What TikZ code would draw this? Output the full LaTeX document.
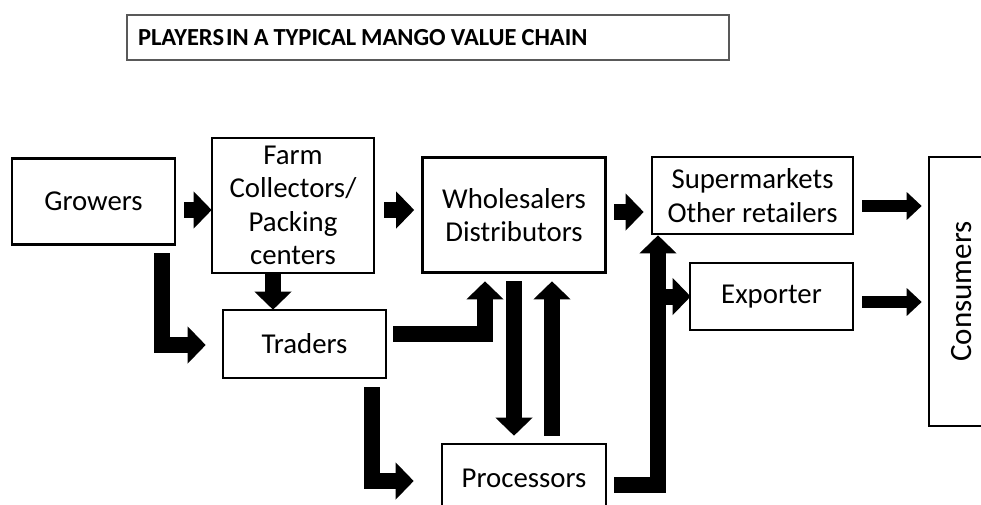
\documentclass[tikz,border=0pt]{standalone}
\usepackage{fontspec}
\setmainfont{Carlito}
\usetikzlibrary{arrows.meta}

\tikzset{
  box/.style={draw=black, line width=2.6pt, inner sep=0pt, align=center,
    font=\fontsize{28.8}{33.5}\selectfont},
  fat/.style={line width=16pt, line join=miter, miter limit=10,
    -{Triangle[length=18pt,width=36pt]}},
  slim/.style={line width=12pt, -{Triangle[length=15pt,width=27pt]}},
}

\begin{document}
\begin{tikzpicture}[x=1pt, y=-1pt]
\useasboundingbox (0,0) rectangle (981,504);
\clip (0,0) rectangle (981,504);
\fill[white] (0,0) rectangle (981,504);

% heading
\node[draw=black!65, line width=1.4pt, minimum height=45pt, text width=580pt,
  inner xsep=11pt, inner ysep=0pt, align=left,
  font=\fontsize{24.5}{28}\selectfont\bfseries] (title) at (428,37.5)
  {\spaceskip=5pt\relax PLAYERS\hspace{2pt}IN A TYPICAL MANGO VALUE CHAIN};

% players
\node[box, minimum width=163pt, minimum height=86pt]  (grow) at (93.5,201.5) {Growers};
\node[box, minimum width=162pt, minimum height=135pt] (farm) at (293,205.5)
  {Farm\\Collectors/\\Packing\\centers};
\node[box, minimum width=163pt, minimum height=68pt]  (trad) at (304.5,344) {Traders};
\node[box, minimum width=183pt, minimum height=115pt] (whol) at (514,215)
  {Wholesalers\\Distributors};
\node[box, minimum width=164pt, minimum height=68pt]  (proc) at (524,478) {Processors};
\node[box, minimum width=201pt, minimum height=77pt]  (supm) at (752.5,195.5)
  {Supermarkets\\Other retailers};
\node[box, minimum width=163pt, minimum height=67pt]  (expo) at (771.5,296.5) {Exporter};
\node[box, rotate=90, minimum width=269pt, minimum height=66pt,
  font=\fontsize{31}{36}\selectfont] (cons) at (962,291.5) {Consumers};

% riser shared by the processors line and the exporter branch
\coordinate (riser) at (658,300);

% flows
\draw[fat] ([shift={(8,8.5)}]grow.east) -- ([shift={(1,4.5)}]farm.west);
\draw[fat] ([shift={(9,4.5)}]farm.east) -- ([shift={(-7,-5)}]whol.west);
\draw[fat] ([shift={(68.5,7.5)}]grow.south) |- ([shift={(-16,1)}]trad.west);
\draw[fat] ([shift={(-20,0)}]farm.south) -- ([shift={(-31.5,1)}]trad.north);
\draw[fat] ([shift={(6,-10)}]trad.east) -| ([shift={(-29,7.5)}]whol.south);
\draw[fat] ([shift={(0,7.5)}]whol.south) -- ([shift={(-10,-7)}]proc.north);
\draw[fat] ([shift={(28,-7)}]proc.north) -- ([shift={(38,7.5)}]whol.south);
\draw[fat] ([shift={(67.5,8)}]trad.south) |- ([shift={(-27,3)}]proc.west);
\draw[fat] ([shift={(7,7)}]proc.east) -| (riser |- supm.south);
\draw[fat] (riser |- expo.west) -- ([shift={(2,0)}]expo.west);
\draw[fat] ([shift={(7.5,-3)}]whol.east) -- ([shift={(-7,16.5)}]supm.west);
\draw[slim] ([shift={(8,10.5)}]supm.east) -- ([shift={(-6,-85.5)}]cons.north);
\draw[slim] ([shift={(8,5.5)}]expo.east) -- ([shift={(-6,10.5)}]cons.north);
\end{tikzpicture}
\end{document}
